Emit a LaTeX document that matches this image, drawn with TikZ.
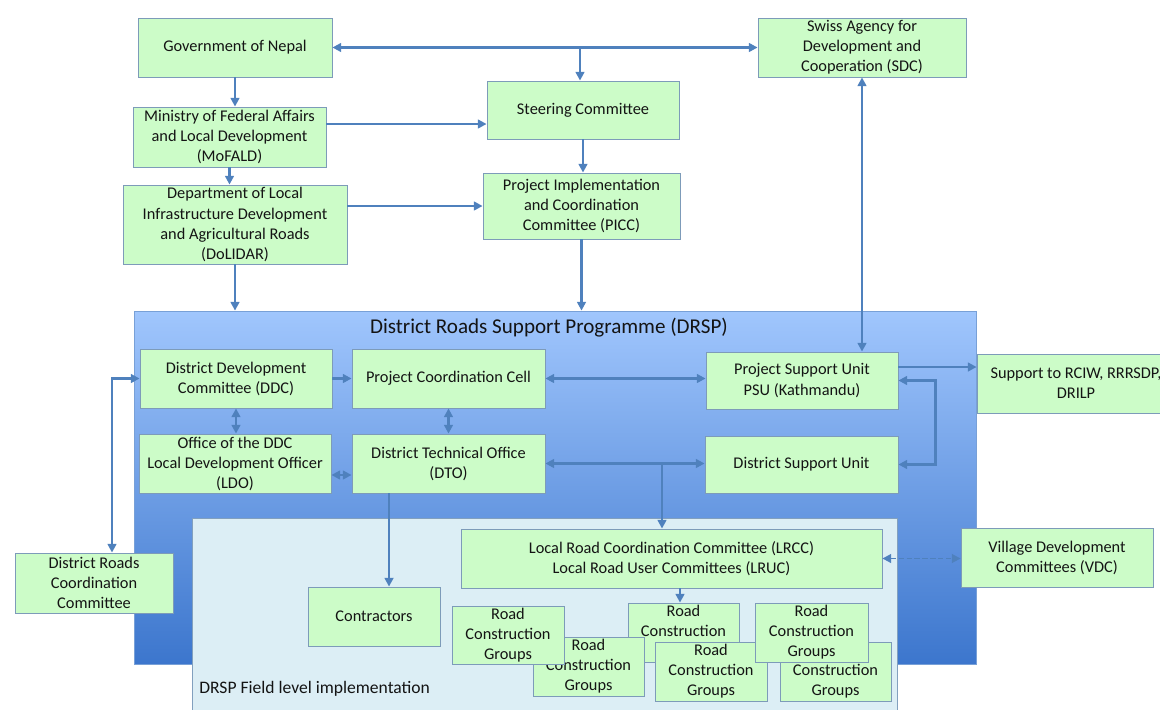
\documentclass[tikz,border=0pt]{standalone}
\usepackage{fontspec}
\setmainfont{Carlito}
\usetikzlibrary{arrows.meta,shadows}
\definecolor{boxgreen}{RGB}{204,252,200}
\definecolor{boxedge}{RGB}{125,155,185}
\definecolor{linkblue}{RGB}{79,129,189}
\definecolor{drsptop}{RGB}{160,198,253}
\definecolor{drspbot}{RGB}{60,118,205}
\definecolor{drspedge}{RGB}{120,160,215}
\definecolor{fieldfill}{RGB}{220,238,245}
\definecolor{fieldedge}{RGB}{130,160,190}
\definecolor{txt}{RGB}{20,20,20}
\begin{document}
\begin{tikzpicture}[x=0.02cm,y=-0.02cm,
    box/.style={draw=boxedge,fill=boxgreen,line width=0.5pt,align=center,inner sep=1pt,
        text=txt,font=\fontsize{9.3}{11.4}\selectfont,
        drop shadow={opacity=0.18,shadow xshift=0.8pt,shadow yshift=-0.8pt}},
    link/.style={draw=linkblue,line width=1.3pt,-{Triangle[length=5pt,width=5pt]}},
    both/.style={link,{Triangle[length=5pt,width=5pt]}-{Triangle[length=5pt,width=5pt]}}]
    \useasboundingbox (0,0) rectangle (1160,710);

    \node[draw=drspedge,top color=drsptop,bottom color=drspbot,line width=0.5pt,
        minimum width=16.86cm,minimum height=7.06cm,inner sep=0pt] (drsp) at (555.5,487.5) {};
    \node[text=txt,font=\fontsize{12}{14}\selectfont] (title) at (549,328) {District Roads Support Programme (DRSP)};
    \node[draw=fieldedge,fill=fieldfill,line width=0.5pt,
        minimum width=14.1cm,minimum height=4.04cm,inner sep=0pt] (field) at (544.5,619) {};
    \node[anchor=west,text=txt,font=\fontsize{10}{12}\selectfont,inner sep=0pt] (flabel) at (199,689) {DRSP Field level implementation};

    \node[box,minimum width=3.88cm,minimum height=1.18cm] (gov) at (235,47.5) {Government of Nepal};
    \node[box,minimum width=4.16cm,minimum height=1.18cm] (sdc) at (862,47.5) {Swiss Agency for\\Development and\\Cooperation (SDC)};
    \node[box,minimum width=3.86cm,minimum height=1.2cm] (mof) at (229.5,137) {Ministry of Federal Affairs\\and Local Development\\(MoFALD)};
    \node[box,minimum width=3.84cm,minimum height=1.16cm] (sc) at (583,110) {Steering Committee};
    \node[box,minimum width=4.48cm,minimum height=1.58cm] (dol) at (235,224.5) {Department of Local\\Infrastructure Development\\and Agricultural Roads\\(DoLIDAR)};
    \node[box,minimum width=3.94cm,minimum height=1.32cm] (picc) at (581.5,206) {Project Implementation\\and Coordination\\Committee (PICC)};

    \node[box,minimum width=3.84cm,minimum height=1.18cm] (ddc) at (236,378.5) {District Development\\Committee (DDC)};
    \node[box,minimum width=3.86cm,minimum height=1.18cm] (pcc) at (448.5,378.5) {Project Coordination Cell};
    \node[box,minimum width=3.84cm,minimum height=1.14cm] (psu) at (802,380.5) {Project Support Unit\\PSU (Kathmandu)};
    \node[box,minimum width=3.96cm,minimum height=1.18cm] (sup) at (1076,383.5) {Support to RCIW, RRRSDP,\\DRILP};
    \node[box,minimum width=3.84cm,minimum height=1.18cm] (ldo) at (235,463.5) {Office of the DDC\\Local Development Officer\\(LDO)};
    \node[box,minimum width=3.86cm,minimum height=1.18cm] (dto) at (448.5,463.5) {District Technical Office\\(DTO)};
    \node[box,minimum width=3.86cm,minimum height=1.14cm] (dsu) at (801.5,464.5) {District Support Unit};

    \node[box,minimum width=8.42cm,minimum height=1.18cm] (lrcc) at (671.5,558.5) {Local Road Coordination Committee (LRCC)\\Local Road User Committees (LRUC)};
    \node[box,minimum width=3.84cm,minimum height=1.18cm] (vdc) at (1057,557.5) {Village Development\\Committees (VDC)};
    \node[box,minimum width=3.16cm,minimum height=1.2cm] (drcc) at (94,583) {District Roads\\Coordination\\Committee};
    \node[box,minimum width=2.64cm,minimum height=1.18cm] (con) at (374,616.5) {Contractors};

    \node[box,minimum width=2.22cm,minimum height=1.18cm] (rcg3) at (683.5,632.5) {Road\\Construction\\Groups};
    \node[box,minimum width=2.22cm,minimum height=1.18cm] (rcg6) at (835.5,671.5) {Road\\Construction\\Groups};
    \node[box,minimum width=2.24cm,minimum height=1.18cm] (rcg4) at (711,671.5) {Road\\Construction\\Groups};
    \node[box,minimum width=2.22cm,minimum height=1.18cm] (rcg2) at (588.5,666.5) {Road\\Construction\\Groups};
    \node[box,minimum width=2.26cm,minimum height=1.18cm] (rcg5) at (811.5,632.5) {Road\\Construction\\Groups};
    \node[box,minimum width=2.24cm,minimum height=1.16cm] (rcg1) at (508,635) {Road\\Construction\\Groups};

    \coordinate (jt) at (580,47.5);
    \coordinate (jd) at (662,465);
    \draw[both] (gov.east) -- (sdc.west);
    \draw[link] (jt) -- (jt |- sc.north);
    \draw[link] (gov.south) -- (gov.south |- mof.north);
    \draw[link] ([yshift=0.26cm]mof.east) -- ([yshift=0.26cm]mof.east -| sc.west);
    \draw[link] (mof.south) -- (mof.south |- dol.north);
    \draw[link] (picc.west -| dol.east) -- (picc.west);
    \draw[link] (sc.south) -- (sc.south |- picc.north);
    \draw[link] (dol.south) -- (dol.south |- drsp.north);
    \draw[link] (picc.south) -- (picc.south |- drsp.north);
    \draw[both] (sdc.south) -- (sdc.south |- psu.north);

    \draw[link] (ddc.east) -- (ddc.east -| pcc.west);
    \draw[both] (pcc.east) -- (pcc.east -| psu.west);
    \draw[link] ([yshift=0.27cm]psu.east) -- ([yshift=0.27cm]psu.east -| sup.west);
    \draw[both] (psu.east) -- ++(37,0) |- (dsu.east);
    \draw[both] (ddc.south) -- (ddc.south |- ldo.north);
    \draw[both] (pcc.south) -- (pcc.south |- dto.north);
    \draw[both] ([yshift=-0.23cm]ldo.east) -- ([yshift=-0.23cm]ldo.east -| dto.west);
    \draw[both] (dto.east) -- (dto.east -| dsu.west);
    \draw[link] (jd) -- (jd |- lrcc.north);
    \draw[link] ([xshift=-1.19cm]dto.south) -- ([xshift=-1.19cm]dto.south |- con.north);
    \draw[link] ([xshift=0.17cm]lrcc.south) -- ([xshift=0.17cm]lrcc.south |- rcg3.north);
    \draw[both,line width=1pt,dash pattern=on 3pt off 1.5pt] (lrcc.east) -- (lrcc.east -| vdc.west);
    \draw[both] ([xshift=0.36cm]drcc.north) |- (ddc.west);
\end{tikzpicture}
\end{document}
